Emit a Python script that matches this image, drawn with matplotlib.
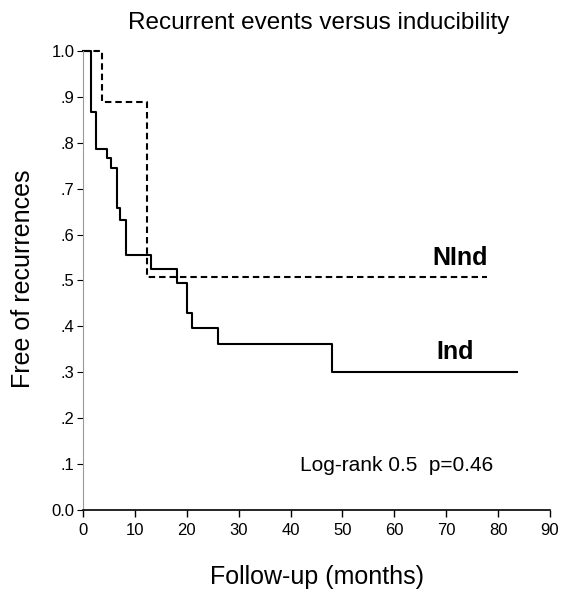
import matplotlib
matplotlib.use("Agg")
import matplotlib.pyplot as plt

plt.rcParams['font.family'] = ['Liberation Sans', 'DejaVu Sans']

# Kaplan-Meier style step data
ind_t = [0, 1.6, 2.6, 4.6, 5.4, 6.5, 7.1, 8.3, 13.2, 18.2, 20.0, 21.1, 26.1, 48.0, 83.7]
ind_s = [1.0, 0.866, 0.787, 0.766, 0.745, 0.657, 0.632, 0.555, 0.526, 0.495, 0.429, 0.396, 0.361, 0.301, 0.301]

nind_t = [0, 3.6, 12.4, 77.9]
nind_s = [1.0, 0.889, 0.507, 0.507]

xticks = [0, 10, 20, 30, 40, 50, 60, 70, 80, 90]
yticks = [0.0, 0.1, 0.2, 0.3, 0.4, 0.5, 0.6, 0.7, 0.8, 0.9, 1.0]
ylabels = ["0.0", ".1", ".2", ".3", ".4", ".5", ".6", ".7", ".8", ".9", "1.0"]

fig = plt.figure(figsize=(5.74, 5.92), dpi=100)
ax = fig.add_axes([0.1446, 0.1385, 0.8134, 0.7754])

ax.step(ind_t, ind_s, where='post', color='black', lw=1.5, clip_on=False)
ax.step(nind_t, nind_s, where='post', color='black', lw=1.5,
        linestyle=(0, (3.1, 1.9)), clip_on=False)

ax.set_xlim(0, 90)
ax.set_ylim(0, 1.0)
ax.set_xticks(xticks)
ax.set_yticks(yticks)
ax.set_yticklabels(ylabels)

for s in ['top', 'right']:
    ax.spines[s].set_visible(False)
ax.spines['left'].set_color('#999999')
ax.spines['left'].set_linewidth(0.8)
ax.spines['bottom'].set_linewidth(1.2)
ax.tick_params(axis='x', direction='out', length=5, width=1, labelsize=12, pad=4)
ax.tick_params(axis='y', direction='out', length=4, width=0.8, labelsize=12, pad=2)

ax.text(72.6, 0.549, "NInd", fontsize=18, fontweight='bold', ha='center', va='center')
ax.text(71.7, 0.344, "Ind", fontsize=18, fontweight='bold', ha='center', va='center')
ax.text(60.5, 0.0965, "Log-rank 0.5  p=0.46", fontsize=15, ha='center', va='center')

fig.text(0.556, 0.961, "Recurrent events versus inducibility", fontsize=17.5,
         ha='center', va='center')
fig.text(0.552, 0.026, "Follow-up (months)", fontsize=18, ha='center', va='center')
fig.text(0.04, 0.529, "Free of recurrences", fontsize=18, ha='center', va='center',
         rotation=90)

fig.savefig("out.png", dpi=100)
